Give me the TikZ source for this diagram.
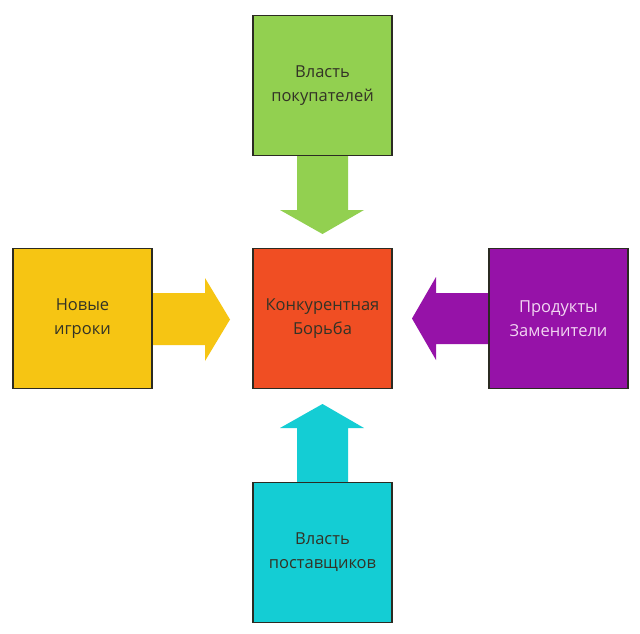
\documentclass[tikz,border=0pt]{standalone}
\usepackage{fontspec}
\setmainfont{Open Sans}
\usetikzlibrary{calc}
\definecolor{cgreen}{HTML}{92D050}
\definecolor{cyellow}{HTML}{F6C513}
\definecolor{cred}{HTML}{F04E23}
\definecolor{cpurple}{HTML}{9612A8}
\definecolor{ccyan}{HTML}{14CDD4}
\definecolor{cborder}{HTML}{2B2B22}
\definecolor{ctext}{HTML}{333326}
\definecolor{clight}{HTML}{F2D6F2}
\tikzset{
  box/.style={draw=cborder, line width=1.2pt, minimum width=139pt, minimum height=140pt,
    inner sep=0pt, align=center, text=ctext, font=\fontsize{16.5pt}{24pt}\selectfont}
}
\begin{document}
\begin{tikzpicture}[x=1pt,y=1pt]
\useasboundingbox (0,0) rectangle (640,-634);
\fill[white] (0,0) rectangle (640,-634);
% node positions
\coordinate (pc) at (322.5,-318.5);
\coordinate (pt) at (322.5,-85.5);
\coordinate (pl) at (82.5,-318.5);
\coordinate (pr) at (558.5,-318.5);
\coordinate (pb) at (322.5,-552.5);
% arrows (drawn first)
\fill[cgreen] ($(pt)+(-25.5,-70.5)$) -- ++(51,0) -- ++(0,-54) -- ++(16,0)
  -- ($(pt)+(0,-148.5)$) -- ($(pt)+(-42.5,-124.5)$) -- ++(17,0) -- cycle;
\fill[cyellow] ($(pl)+(69.5,25.5)$) -- ++(53,0) -- ++(0,15) -- ($(pl)+(147.5,-1)$)
  -- ($(pl)+(122.5,-42.5)$) -- ++(0,16) -- ++(-53,0) -- cycle;
\fill[cpurple] ($(pr)+(-69.5,25.5)$) -- ++(-53,0) -- ++(0,16) -- ($(pr)+(-146.5,0)$)
  -- ($(pr)+(-122.5,-41.5)$) -- ++(0,16) -- ++(53,0) -- cycle;
\fill[ccyan] ($(pb)+(-25.5,70.5)$) -- ++(0,54) -- ++(-17,0) -- ($(pb)+(0,148.5)$)
  -- ($(pb)+(41.5,124.5)$) -- ++(-16,0) -- ++(0,-54) -- cycle;
% boxes
\node[box, fill=cred] (center) at (pc) {Конкурентная\\Борьба};
\node[box, fill=cgreen] (top) at (pt) {Власть\\покупателей};
\node[box, fill=cyellow] (left) at (pl) {Новые\\игроки};
\node[box, fill=cpurple, text=clight] (right) at (pr) {Продукты\\Заменители};
\node[box, fill=ccyan] (bottom) at (pb) {Власть\\поставщиков};
\end{tikzpicture}
\end{document}
